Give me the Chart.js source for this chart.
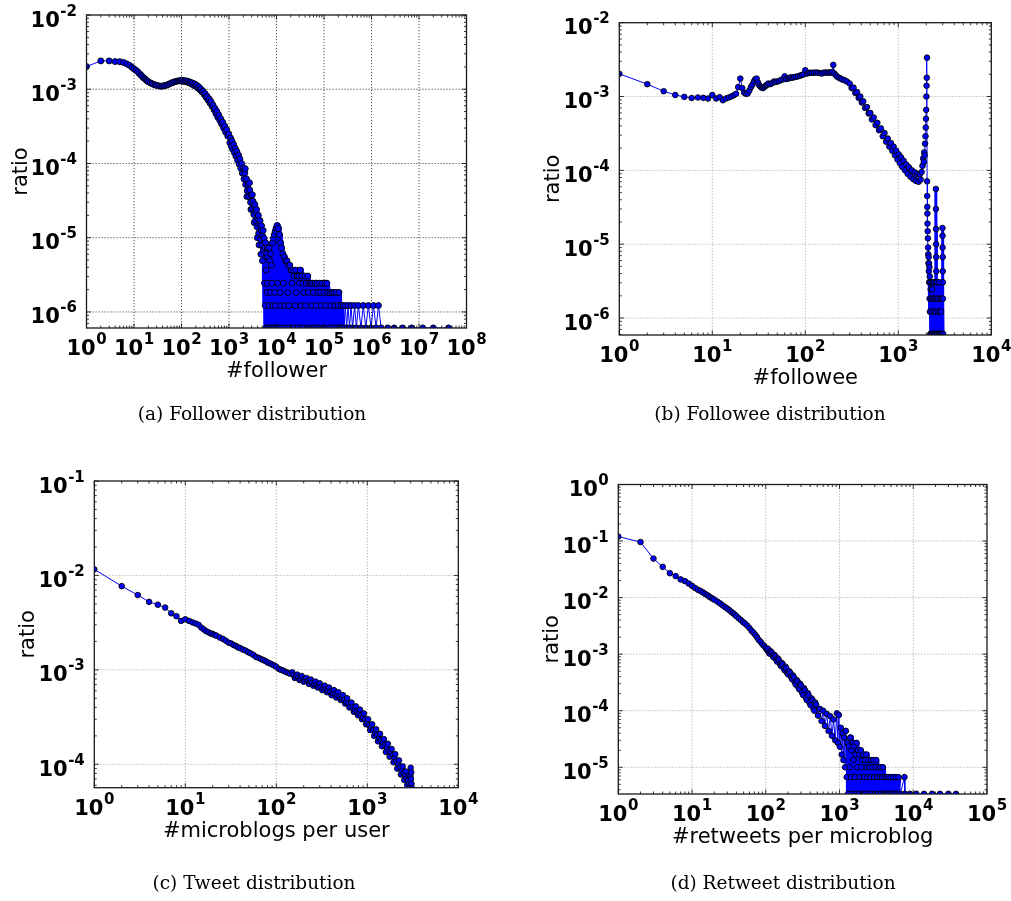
<!DOCTYPE html>
<html>
<head>
<meta charset="utf-8">
<title>Degree distributions</title>
<script src="https://cdn.jsdelivr.net/npm/chart.js@4.4.1/dist/chart.umd.min.js"></script>
<style>
  html, body { margin: 0; padding: 0; background: #fff; }
  #page { position: relative; width: 1011px; height: 901px; overflow: hidden; }
  #page canvas { position: absolute; left: 0; top: 0; }
  .cap { position: absolute; font-family: "DejaVu Serif", serif; font-size: 18.5px; line-height: 18.5px;
         color: #000; white-space: nowrap; transform: translateX(-50%); }
</style>
</head>
<body>
<div id="page">
  <canvas id="follower" width="1011" height="901"></canvas>
  <canvas id="followee" width="1011" height="901"></canvas>
  <canvas id="tweet" width="1011" height="901"></canvas>
  <canvas id="retweet" width="1011" height="901"></canvas>
  <div class="cap" style="left:252px; top:405px">(a) Follower distribution</div>
  <div class="cap" style="left:770px; top:405px">(b) Followee distribution</div>
  <div class="cap" style="left:254px; top:874px">(c) Tweet distribution</div>
  <div class="cap" style="left:783px; top:874px">(d) Retweet distribution</div>
</div>
<script>
// [degree, ratio]
const followerData = [
  [1,2.02e-3],[2,2.41e-3],[3,2.41e-3],[4,2.36e-3],[5,2.35e-3],[6,2.3e-3],[7,2.2e-3],[8,2.1e-3],[9,1.98e-3],[10,1.88e-3],
  [11,1.8e-3],[12,1.72e-3],[13,1.62e-3],[14,1.55e-3],[15,1.48e-3],[16,1.42e-3],[17,1.38e-3],[18,1.33e-3],[19,1.29e-3],[20,1.26e-3],
  [22,1.22e-3],[24,1.19e-3],[26,1.16e-3],[28,1.14e-3],[30,1.13e-3],[33,1.11e-3],[36,1.1e-3],[39,1.1e-3],[42,1.11e-3],[45,1.12e-3],
  [49,1.14e-3],[53,1.16e-3],[57,1.19e-3],[62,1.22e-3],[67,1.24e-3],[72,1.26e-3],[78,1.28e-3],[84,1.29e-3],[90,1.3e-3],[95,1.3e-3],
  [100,1.32e-3],[105,1.28e-3],[111,1.31e-3],[117,1.27e-3],[124,1.3e-3],[130,1.25e-3],[137,1.28e-3],[145,1.22e-3],[152,1.25e-3],[160,1.18e-3],
  [170,1.21e-3],[180,1.13e-3],[190,1.18e-3],[200,1.1e-3],[210,1.13e-3],[220,1.04e-3],[233,1.07e-3],[245,9.8e-4],[258,1.0e-3],[270,9.2e-4],
  [285,9.4e-4],[300,8.5e-4],[315,8.7e-4],[330,7.8e-4],[347,8.0e-4],[365,7.1e-4],[383,7.4e-4],[400,6.5e-4],[420,6.8e-4],[440,5.9e-4],
  [462,6.1e-4],[485,5.3e-4],[508,5.5e-4],[530,4.7e-4],[555,5.0e-4],[580,4.2e-4],[610,4.5e-4],[640,3.8e-4],[670,4.0e-4],[700,3.4e-4],
  [735,3.6e-4],[770,3.0e-4],[810,3.2e-4],[850,2.65e-4],[895,2.85e-4],[940,2.35e-4],[990,2.5e-4],
  [1040,1.9e-4],[1080,2.2e-4],[1120,1.7e-4],[1160,2.0e-4],[1200,1.55e-4],[1250,1.8e-4],[1300,1.4e-4],[1350,1.6e-4],[1400,1.25e-4],[1460,1.45e-4],
  [1520,1.1e-4],[1580,1.3e-4],[1640,9.8e-5],[1700,1.15e-4],[1770,8.6e-5],[1840,1.0e-4],[1910,7.4e-5],[1990,8.8e-5],[2070,6.2e-5],[2150,7.4e-5],
  [2200,8.5e-5],[2240,5.2e-5],[2330,6.2e-5],[2380,3.6e-5],[2420,4.3e-5],[2520,5.2e-5],[2620,3.6e-5],[2700,5.5e-5],[2730,4.4e-5],[2840,3.0e-5],
  [2900,2.4e-5],[2960,3.7e-5],[3080,2.5e-5],[3100,3.8e-5],[3200,3.1e-5],[3330,2.05e-5],[3400,1.6e-5],[3460,2.6e-5],[3500,2.8e-5],[3600,1.7e-5],
  [3750,2.15e-5],[3800,2.4e-5],[3900,1.4e-5],[3950,1.0e-5],[4060,1.8e-5],[4150,2.0e-5],[4220,1.15e-5],[4300,8e-6],[4400,1.5e-5],[4500,1.7e-5],
  [4580,9.5e-6],[4700,6e-6],[4770,1.25e-5],[4850,1.45e-5],[4960,7.9e-6],[5050,4.9e-6],[5160,1.05e-5],[5250,1.25e-5],[5370,6.7e-6],
  [5500,9.76e-6],[5600,2.44e-6],[5700,7.32e-6],[5800,1.22e-6],[5900,8.54e-6],[6000,3.66e-6],[6100,6.1e-7],[6200,6.1e-6],[6300,1.83e-6],[6400,7.32e-6],
  [6500,2.44e-6],[6650,5.49e-6],[6800,6.1e-7],[6950,7.32e-6],[7100,1.22e-6],[7250,4.88e-6],[7400,1.83e-6],[7550,6.1e-6],[7700,6.1e-7],[7850,4.27e-6],
  [8000,2.44e-6],[8200,8.54e-6],[8400,1.22e-6],[8600,9.76e-6],[8800,6.1e-7],[9000,1.1e-5],[9200,1.83e-6],[9400,1.22e-5],[9600,1.22e-6],[9800,1.34e-5],
  [10000,6.1e-7],[10300,1.46e-5],[10600,2.44e-6],[10900,1.34e-5],[11200,6.1e-7],[11500,1.1e-5],[11800,1.83e-6],[12100,8.54e-6],[12400,1.22e-6],[12800,7.32e-6],
  [13200,6.1e-7],[13600,6.1e-6],[14000,2.44e-6],[14500,5.49e-6],[15000,1.22e-6],[15500,4.88e-6],[16000,6.1e-7],[16600,4.88e-6],[17200,1.83e-6],[17800,4.27e-6],
  [18400,1.22e-6],[19000,4.27e-6],[19700,6.1e-7],[20400,3.66e-6],[21100,2.44e-6],[21900,3.66e-6],[22700,6.1e-7],[23500,3.05e-6],[24400,1.22e-6],[25300,3.66e-6],
  [26200,1.83e-6],[27200,3.05e-6],[28200,6.1e-7],[29300,3.05e-6],[30400,2.44e-6],[31500,3.66e-6],[32700,1.22e-6],[33900,3.05e-6],[35200,6.1e-7],[36500,2.44e-6],
  [37900,1.83e-6],[39300,3.05e-6],[40800,1.22e-6],[42300,2.44e-6],[43900,6.1e-7],[45500,3.05e-6],[47200,1.83e-6],[49000,2.44e-6],[51000,6.1e-7],[53000,2.44e-6],
  [55000,1.22e-6],[57500,2.44e-6],[60000,1.83e-6],[62500,6.1e-7],[65000,2.44e-6],[68000,1.22e-6],[71000,2.44e-6],[74000,1.83e-6],[77000,6.1e-7],[80000,2.44e-6],
  [84000,1.83e-6],[88000,1.22e-6],[92000,2.44e-6],[96000,6.1e-7],[100000,1.83e-6],[105000,2.44e-6],[110000,1.22e-6],[115000,2.44e-6],[120000,1.83e-6],[126000,6.1e-7],
  [132000,1.83e-6],[139000,1.22e-6],[146000,1.83e-6],[153000,6.1e-7],[161000,1.83e-6],[169000,1.22e-6],[178000,1.83e-6],[187000,6.1e-7],[196000,1.22e-6],[206000,1.83e-6],
  [216000,6.1e-7],[227000,1.22e-6],[238000,6.1e-7],[250000,1.22e-6],[265000,6.1e-7],[280000,1.22e-6],[300000,6.1e-7],[320000,1.22e-6],[345000,6.1e-7],[370000,1.22e-6],
  [400000,6.1e-7],[440000,1.22e-6],[480000,6.1e-7],[530000,1.22e-6],[600000,6.1e-7],[670000,1.22e-6],[760000,6.1e-7],[860000,1.22e-6],[980000,6.1e-7],[1100000,1.22e-6],
  [1250000,6.1e-7],[1400000,1.22e-6],[1600000,6.1e-7],[2200000,6.1e-7],[3000000,6.1e-7],[4500000,6.1e-7],[7000000,6.1e-7],[12000000,6.1e-7],[20000000,6.1e-7],[42000000,6.1e-7]
];

const followeeData = [
  [1,2.03e-3],[2,1.47e-3],[3,1.18e-3],[4,1.05e-3],[5,9.9e-4],[6,9.55e-4],[7,9.7e-4],[8,9.6e-4],[9,9.4e-4],[10,1.05e-3],
  [11,9.4e-4],[12,9.8e-4],[13,8.9e-4],[14,9.4e-4],[15,9.7e-4],[16,1.0e-3],[17,1.04e-3],[18,1.09e-3],[19,1.34e-3],[20,1.75e-3],
  [21,1.3e-3],[22,1.13e-3],[23,1.09e-3],[24,1.1e-3],[25,1.2e-3],[26,1.34e-3],[27,1.44e-3],[28,1.6e-3],[29,1.72e-3],[30,1.75e-3],
  [31,1.55e-3],[32,1.42e-3],[33,1.36e-3],[34,1.32e-3],[35,1.3e-3],[36,1.34e-3],[37,1.38e-3],[38,1.42e-3],[39,1.45e-3],[40,1.5e-3],
  [42,1.47e-3],[44,1.52e-3],[46,1.6e-3],[48,1.57e-3],[50,1.6e-3],[52,1.62e-3],[55,1.68e-3],[58,1.72e-3],[60,1.88e-3],[62,1.72e-3],
  [65,1.75e-3],[68,1.78e-3],[70,1.82e-3],[73,1.8e-3],[76,1.84e-3],[80,1.85e-3],[84,1.88e-3],[88,1.92e-3],[92,1.96e-3],[96,2.0e-3],
  [100,2.27e-3],[104,2.05e-3],[108,2.08e-3],[113,2.1e-3],[118,2.1e-3],[124,2.1e-3],[130,2.12e-3],[137,2.1e-3],[144,2.08e-3],[150,2.05e-3],
  [157,2.1e-3],[165,2.12e-3],[172,2.1e-3],[180,2.12e-3],[188,2.1e-3],[195,2.15e-3],[200,2.68e-3],[205,2.05e-3],[212,1.95e-3],[220,1.86e-3],
  [230,1.8e-3],[240,1.75e-3],[250,1.7e-3],[265,1.66e-3],[280,1.6e-3],
  [300,1.5e-3],[315,1.3e-3],[330,1.32e-3],[345,1.12e-3],[360,1.15e-3],[375,9.6e-4],[390,1.0e-3],[405,8.3e-4],[420,8.6e-4],[440,7.0e-4],
  [460,7.2e-4],[480,5.9e-4],[500,6.0e-4],[520,4.9e-4],[545,5.2e-4],[570,4.1e-4],[595,4.4e-4],[620,3.5e-4],[650,3.7e-4],[680,2.9e-4],
  [710,3.2e-4],[740,2.45e-4],[770,2.7e-4],[800,2.1e-4],[830,2.35e-4],[860,1.85e-4],[890,2.1e-4],[920,1.6e-4],[950,1.85e-4],[980,1.4e-4],
  [1010,1.65e-4],[1040,1.25e-4],[1070,1.5e-4],[1100,1.12e-4],[1140,1.35e-4],[1180,1.0e-4],[1220,1.2e-4],[1260,9.0e-5],[1300,1.1e-4],[1350,8.2e-5],
  [1400,1.0e-4],[1450,7.6e-5],[1500,9.4e-5],[1550,7.2e-5],[1600,9.0e-5],[1650,7.0e-5],[1700,8.8e-5],[1740,7.5e-5],[1780,9.5e-5],[1820,1.15e-4],
  [1850,1.45e-4],[1880,1.3e-4],[1900,1.75e-4],[1920,1.6e-4],[1940,2.3e-4],[1960,2.9e-4],[1975,3.8e-4],[1985,5.0e-4],[1995,6.6e-4],[2005,1.0e-3],
  [2015,1.4e-3],[2025,1.8e-3],[2035,3.36e-3],
  [2040,7.1e-5],[2045,4.5e-5],[2050,3.2e-5],[2055,2.6e-5],[2060,1.9e-5],[2070,1.5e-5],[2080,1.2e-5],[2090,9e-6],[2100,7.3e-6],[2110,5.5e-6],
  [2120,6.7e-6],[2130,4.3e-6],[2140,5.5e-6],[2150,3.05e-6],[2160,4.9e-6],[2170,1.83e-6],[2180,3.66e-6],[2190,1.22e-6],[2200,3.05e-6],[2215,6.1e-7],
  [2230,2.44e-6],[2245,1.83e-6],[2260,6.1e-7],[2275,3.05e-6],[2290,1.22e-6],[2305,2.44e-6],[2320,6.1e-7],[2340,1.83e-6],[2360,3.05e-6],[2380,6.1e-7],
  [2400,1.83e-6],[2420,1.22e-6],[2440,3.05e-6],[2460,6.1e-7],[2480,1.83e-6],[2500,1.22e-6],[2520,6.1e-7],[2535,5.6e-5],[2540,3.0e-5],[2545,1.6e-5],
  [2550,1.0e-5],[2555,6.7e-6],[2560,4.3e-6],[2570,3.05e-6],[2580,6.1e-7],[2600,1.83e-6],[2620,3.05e-6],[2640,6.1e-7],[2670,1.22e-6],[2700,1.83e-6],
  [2730,6.1e-7],[2760,3.05e-6],[2790,1.22e-6],[2820,6.1e-7],[2850,1.83e-6],[2880,1.22e-6],[2910,6.1e-7],[2940,1.83e-6],[2970,6.1e-7],[2985,1.66e-5],
  [2990,1.3e-5],[2995,9e-6],[3000,6.7e-6],[3005,4.3e-6],[3010,3.05e-6],[3020,1.83e-6],[3030,6.1e-7]
];

const tweetData = [
  [1,1.16e-2],[2,7.7e-3],[3,6.2e-3],[4,5.25e-3],[5,4.9e-3],[6,4.57e-3],[7,3.97e-3],[8,3.7e-3],[9,3.3e-3],[10,3.43e-3],
  [11,3.3e-3],[12,3.18e-3],[13,3.1e-3],[14,3.0e-3],[15,2.8e-3],[16,2.68e-3],[17,2.56e-3],[18,2.5e-3],[19,2.43e-3],[20,2.4e-3],
  [21,2.34e-3],[22,2.3e-3],[24,2.2e-3],[26,2.12e-3],[28,2.03e-3],[30,1.94e-3],[32,1.9e-3],[34,1.83e-3],[36,1.79e-3],[38,1.73e-3],
  [40,1.7e-3],[43,1.64e-3],[46,1.6e-3],[49,1.54e-3],[52,1.5e-3],[56,1.44e-3],[60,1.37e-3],[64,1.34e-3],[68,1.3e-3],[72,1.27e-3],
  [76,1.24e-3],[80,1.2e-3],[85,1.17e-3],[90,1.14e-3],[95,1.11e-3],[100,1.08e-3],[107,1.02e-3],[113,1.0e-3],[120,9.8e-4],[127,9.5e-4],
  [135,9.3e-4],[142,9.1e-4],[150,9.4e-4],[155,8.8e-4],[160,8.2e-4],[165,8.5e-4],[170,8.9e-4],[175,8.3e-4],[180,7.8e-4],[185,8.1e-4],
  [190,8.6e-4],[195,7.9e-4],[200,7.5e-4],[207,7.8e-4],[215,8.2e-4],[221,7.6e-4],[228,7.1e-4],[234,7.5e-4],[240,7.9e-4],[247,7.3e-4],
  [255,6.8e-4],[262,7.1e-4],[270,7.5e-4],[277,6.9e-4],[285,6.5e-4],[292,6.8e-4],[300,7.2e-4],[310,6.6e-4],[320,6.1e-4],[330,6.4e-4],
  [340,6.8e-4],[350,6.2e-4],[360,5.8e-4],[370,6.1e-4],[380,6.5e-4],[392,5.9e-4],[405,5.4e-4],[417,5.7e-4],[430,6.1e-4],[442,5.6e-4],
  [455,5.1e-4],[467,5.4e-4],[480,5.8e-4],[495,5.2e-4],[510,4.8e-4],[525,5.0e-4],[540,5.4e-4],[555,4.8e-4],[570,4.4e-4],[585,4.6e-4],
  [600,5.0e-4],[617,4.4e-4],[635,4.0e-4],[652,4.2e-4],[670,4.5e-4],[690,4.0e-4],[710,3.6e-4],[730,3.8e-4],[750,4.1e-4],[770,3.6e-4],
  [790,3.3e-4],[810,3.5e-4],[830,3.8e-4],[852,3.3e-4],[875,3.0e-4],[897,3.15e-4],[920,3.45e-4],[945,3.0e-4],[970,2.65e-4],[995,2.8e-4],
  [1020,3.0e-4],[1047,2.6e-4],[1075,2.3e-4],[1100,2.45e-4],[1130,2.65e-4],[1160,2.3e-4],[1190,2.0e-4],[1220,2.15e-4],[1250,2.35e-4],[1280,2.05e-4],
  [1310,1.75e-4],[1345,1.9e-4],[1380,2.1e-4],[1415,1.8e-4],[1450,1.55e-4],[1485,1.7e-4],[1520,1.85e-4],[1560,1.6e-4],[1600,1.35e-4],[1640,1.5e-4],
  [1680,1.65e-4],[1720,1.4e-4],[1760,1.2e-4],[1805,1.32e-4],[1850,1.45e-4],[1895,1.25e-4],[1940,1.05e-4],[1985,1.17e-4],[2030,1.28e-4],[2080,1.08e-4],
  [2130,9.0e-5],[2180,1.0e-4],[2230,1.1e-4],[2285,9.3e-5],[2340,7.8e-5],[2395,8.6e-5],[2450,9.5e-5],[2500,8.0e-5],[2550,6.8e-5],[2600,7.6e-5],
  [2650,8.4e-5],[2700,7.1e-5],[2750,6.0e-5],[2800,6.7e-5],[2850,7.6e-5],[2900,6.3e-5],[2950,5.8e-5],[2975,7.5e-5],[3000,9.2e-5],[3020,7.0e-5],
  [3040,8.2e-5],[3060,6.2e-5],[3080,5.6e-5]
];

const retweetData = [
  [1,0.12],[2,0.096],[3,0.049],[4,0.035],[5,0.027],[6,0.024],[7,0.021],[8,0.0196],[9,0.0178],[10,0.0162],
  [11,0.0148],[12,0.0138],[13,0.0131],[14,0.0124],[15,0.0117],[16,0.0111],[17,0.0105],[18,0.01],[19,0.0096],[20,0.0092],
  [22,0.0085],[24,0.0079],[26,0.0073],[28,0.0068],[30,0.0064],[32,0.006],[34,0.0056],[36,0.0053],[38,0.005],[40,0.0047],
  [43,0.0043],[46,0.004],[49,0.0037],[52,0.0035],[56,0.0032],[60,0.0029],[64,0.0026],[68,0.0024],[72,0.0022],[76,0.002],
  [80,0.0018],[85,0.00165],[90,0.0015],[95,0.0014],[100,0.00128],[104,0.00118],[107,0.00125],[110,0.00108],[113,0.00102],[117,0.00112],
  [120,0.00107],[124,0.00094],[127,0.00088],[131,0.00097],[135,0.00092],[139,0.0008],[142,0.00074],[146,0.00084],[150,0.00079],[155,0.00068],
  [160,0.00062],[165,0.0007],[170,0.00066],[175,0.00056],[180,0.00052],[185,0.0006],[190,0.00056],[195,0.00047],[200,0.00044],[207,0.0005],
  [215,0.00047],[221,0.00039],[228,0.00036],[234,0.00042],[240,0.00039],[247,0.00032],[255,0.00029],[262,0.00035],[270,0.00033],[277,0.00026],
  [285,0.00024],[292,0.0003],[300,0.00028],[310,0.00021],[320,0.00019],[330,0.00025],[340,0.00023],[350,0.00017],[360,1.55e-4],[370,2.05e-4],
  [380,1.9e-4],[392,1.38e-4],[405,1.25e-4],[417,1.65e-4],[430,1.55e-4],[442,1.1e-4],[455,1.0e-4],[467,1.4e-4],[480,1.3e-4],
  [510,8.2e-5],[540,1.08e-4],[570,6.6e-5],[600,1.0e-4],[635,5.4e-5],[670,8.8e-5],[710,4.4e-5],[750,8.0e-5],[790,3.6e-5],[830,7.0e-5],
  [875,3.0e-5],[920,9.0e-5],[950,2.7e-5],[980,8.4e-5],[1010,2.3e-5],[1040,5.0e-5],[1070,1.68e-5],[1100,4.0e-5],[1130,1.34e-5],[1160,3.35e-5],
  [1190,1.0e-5],[1220,4.4e-5],[1250,6.7e-6],[1280,2.7e-5],[1310,3.4e-6],[1340,2.35e-5],[1370,1.0e-5],[1400,3.35e-5],[1430,6.7e-6],[1460,2.0e-5],
  [1490,3.4e-6],[1520,2.7e-5],[1550,1.34e-5],[1580,2.35e-5],[1610,6.7e-6],[1640,1.68e-5],[1670,3.4e-6],[1700,2.7e-5],[1740,1.0e-5],[1780,2.0e-5],
  [1820,3.4e-6],[1860,1.68e-5],[1900,6.7e-6],[1940,2.0e-5],[1980,1.0e-5],[2020,1.34e-5],[2060,3.4e-6],[2100,1.68e-5],[2150,6.7e-6],[2200,1.34e-5],
  [2250,3.4e-6],[2300,1.68e-5],[2350,1.0e-5],[2400,6.7e-6],[2450,1.34e-5],[2500,3.4e-6],[2560,1.0e-5],[2620,6.7e-6],[2680,1.34e-5],[2740,3.4e-6],
  [2800,1.0e-5],[2870,1.34e-5],[2940,6.7e-6],[3010,3.4e-6],[3080,1.0e-5],[3150,1.34e-5],[3230,6.7e-6],[3310,3.4e-6],[3400,1.0e-5],[3490,6.7e-6],
  [3580,1.0e-5],[3670,3.4e-6],[3770,6.7e-6],[3870,1.0e-5],[3970,3.4e-6],[4080,6.7e-6],[4200,3.4e-6],[4320,6.7e-6],[4450,3.4e-6],[4600,6.7e-6],
  [4750,3.4e-6],[4900,6.7e-6],[5100,3.4e-6],[5300,6.7e-6],[5500,3.4e-6],[5750,6.7e-6],[6000,3.4e-6],[6300,6.7e-6],[6700,3.4e-6],[7600,6.7e-6],
  [7700,3.4e-6],[9000,3.4e-6],[11000,3.4e-6],[14000,3.4e-6],[18000,3.4e-6],[23000,3.4e-6],[30000,3.4e-6],[38000,3.4e-6]
];

// decade exponents used for grid lines and tick labels
const followerXExp = [0, 1, 2, 3, 4, 5, 6, 7, 8];
const followerYExp = [-6, -5, -4, -3, -2];
const followeeXExp = [0, 1, 2, 3, 4];
const followeeYExp = [-6, -5, -4, -3, -2];
const tweetXExp = [0, 1, 2, 3, 4];
const tweetYExp = [-4, -3, -2, -1];
const retweetXExp = [0, 1, 2, 3, 4, 5];
const retweetYExp = [-5, -4, -3, -2, -1, 0];

const BLUE = '#0000ff';

function expText(e) { return e < 0 ? '-' + (-e) : String(e); }

// matplotlib-like frame: dotted decade grid, inward ticks, 10^n labels, axis titles
function logFrame(cfg) {
  return {
    id: 'logFrame',
    beforeDatasetsDraw(chart) {
      const { ctx, chartArea: a, scales: { x, y } } = chart;
      ctx.save();
      ctx.strokeStyle = cfg.grid;
      ctx.lineWidth = 0.8;
      ctx.setLineDash([1.2, 1.8]);
      ctx.beginPath();
      cfg.xExp.forEach(e => {
        const px = x.getPixelForValue(10 ** e);
        if (px > a.left + 2 && px < a.right - 2) { ctx.moveTo(px, a.top); ctx.lineTo(px, a.bottom); }
      });
      cfg.yExp.forEach(e => {
        const py = y.getPixelForValue(10 ** e);
        if (py > a.top + 2 && py < a.bottom - 2) { ctx.moveTo(a.left, py); ctx.lineTo(a.right, py); }
      });
      ctx.stroke();
      ctx.restore();
    },
    afterDatasetsDraw(chart) {
      const { ctx, chartArea: a, scales: { x, y } } = chart;
      ctx.save();
      // minor + major tick marks on all four sides
      ctx.strokeStyle = '#000';
      ctx.lineWidth = 0.8;
      ctx.beginPath();
      const eachTick = (scale, fn) => {
        const lo = Math.floor(Math.log10(scale.min)), hi = Math.ceil(Math.log10(scale.max));
        for (let d = lo; d <= hi; d++) {
          for (let m = 1; m <= 9; m++) {
            const v = m * Math.pow(10, d);
            if (v >= scale.min && v <= scale.max) fn(scale.getPixelForValue(v), m === 1 ? 4.5 : 2.5);
          }
        }
      };
      eachTick(x, (p, len) => { ctx.moveTo(p, a.bottom); ctx.lineTo(p, a.bottom - len); ctx.moveTo(p, a.top); ctx.lineTo(p, a.top + len); });
      eachTick(y, (p, len) => { ctx.moveTo(a.left, p); ctx.lineTo(a.left + len, p); ctx.moveTo(a.right, p); ctx.lineTo(a.right - len, p); });
      ctx.stroke();
      // frame
      ctx.strokeStyle = '#1a1a1a';
      ctx.lineWidth = 1.3;
      ctx.strokeRect(a.left, a.top, a.right - a.left, a.bottom - a.top);
      // tick labels
      ctx.fillStyle = '#000';
      ctx.textBaseline = 'alphabetic';
      ctx.textAlign = 'left';
      const BASE = 'bold 21px "DejaVu Sans"', SUP = 'bold 15px "DejaVu Sans"';
      const powWidth = e => {
        ctx.font = BASE; const w = ctx.measureText('10').width;
        ctx.font = SUP; return w + 0.5 + ctx.measureText(expText(e)).width;
      };
      const power = (e, left, baseY) => {
        ctx.font = BASE; ctx.fillText('10', left, baseY);
        const w = ctx.measureText('10').width;
        ctx.font = SUP; ctx.fillText(expText(e), left + w + 0.5, baseY - 11);
      };
      cfg.xExp.forEach(e => {
        const px = x.getPixelForValue(10 ** e);
        power(e, px - powWidth(e) / 2, a.bottom + 27);
      });
      cfg.yExp.forEach(e => {
        const py = y.getPixelForValue(10 ** e);
        power(e, a.left - 9.5 - powWidth(e), py + 11.5);
      });
      // axis titles
      ctx.font = '21px "DejaVu Sans"';
      ctx.textAlign = 'center';
      ctx.fillText(cfg.xTitle, (a.left + a.right) / 2, a.bottom + 49);
      ctx.translate(a.left - 60, (a.top + a.bottom) / 2);
      ctx.rotate(-Math.PI / 2);
      ctx.fillText('ratio', 0, 0);
      ctx.restore();
    }
  };
}

function makePanel(id, points, p) {
  const datasets = [{
    data: points.map(([x, y]) => ({ x, y })),
    order: 0,
    borderColor: BLUE,
    borderWidth: 1,
    borderJoinStyle: 'round',
    pointRadius: p.dot,
    pointBackgroundColor: BLUE,
    pointBorderColor: '#000',
    pointBorderWidth: 0.9,
    tension: 0,
    fill: false
  }];
  if (p.tail) {
    // the same series over its sparse tail, stroked wide underneath: the many
    // drops to the floor merge into the solid blue block seen in the original
    const [lo, hi, w] = p.tail;
    datasets.push({
      data: points.filter(([d]) => d >= lo && d <= hi).map(([x, y]) => ({ x, y })),
      order: 1,
      borderColor: BLUE,
      borderWidth: w,
      borderJoinStyle: 'round',
      pointRadius: 0,
      tension: 0,
      fill: false
    });
  }
  return new Chart(document.getElementById(id), {
    type: 'line',
    data: { datasets },
    options: {
      responsive: false,
      animation: false,
      devicePixelRatio: 1,
      events: [],
      layout: { padding: { left: p.area[0], top: p.area[1], right: 1011 - p.area[2], bottom: 901 - p.area[3] } },
      scales: {
        x: { type: 'logarithmic', display: false, min: p.xRange[0], max: p.xRange[1] },
        y: { type: 'logarithmic', display: false, min: p.yRange[0], max: p.yRange[1] }
      },
      plugins: { legend: { display: false }, tooltip: { enabled: false } }
    },
    plugins: [logFrame(p)]
  });
}

makePanel('follower', followerData, {
  area: [86.5, 15, 466.5, 328], xRange: [1, 1e8], yRange: [6.08e-7, 1e-2],
  xExp: followerXExp, yExp: followerYExp, xTitle: '#follower', grid: '#222', dot: 3,
  tail: [5600, 240000, 6]
});
makePanel('followee', followeeData, {
  area: [619.3, 22.7, 991.3, 335], xRange: [1, 1e4], yRange: [5.89e-7, 1e-2],
  xExp: followeeXExp, yExp: followeeYExp, xTitle: '#followee', grid: '#999', dot: 2.8,
  tail: [2140, 3030, 3]
});
makePanel('tweet', tweetData, {
  area: [94.3, 481, 458.3, 787.7], xRange: [1, 1e4], yRange: [5.65e-5, 1e-1],
  xExp: tweetXExp, yExp: tweetYExp, xTitle: '#microblogs per user', grid: '#999', dot: 2.8
});
makePanel('retweet', retweetData, {
  area: [618.3, 484.5, 987, 794], xRange: [1, 1e5], yRange: [3.37e-6, 1],
  xExp: retweetXExp, yExp: retweetYExp, xTitle: '#retweets per microblog', grid: '#999', dot: 2.8,
  tail: [1300, 6300, 6]
});
</script>
</body>
</html>
